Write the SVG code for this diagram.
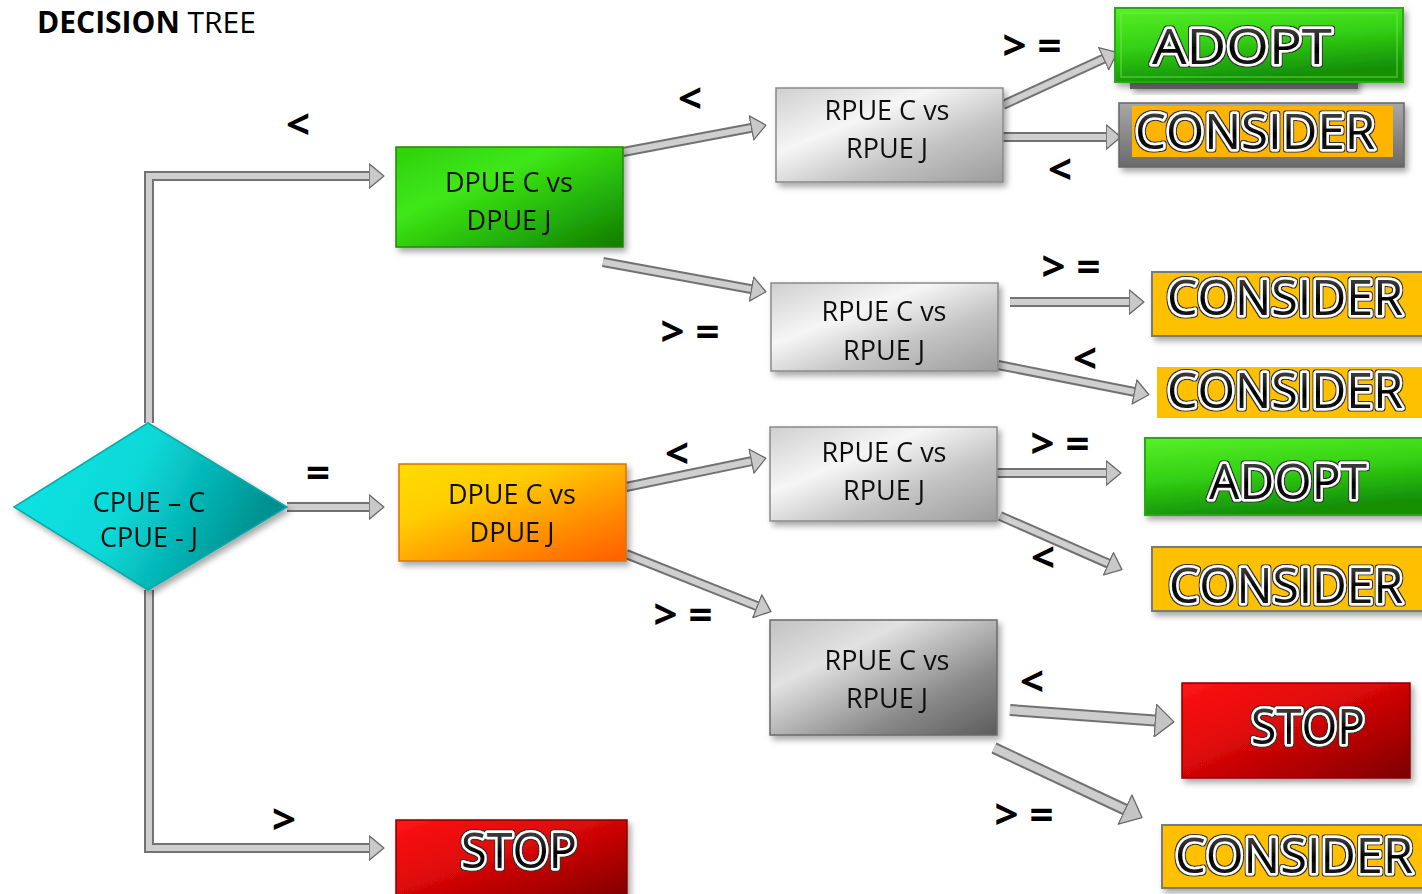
<svg xmlns="http://www.w3.org/2000/svg" width="1422" height="894" viewBox="0 0 1422 894">
<style>
.lbl{font-family:"Open Sans","Liberation Sans",sans-serif;font-weight:700;font-size:42px;fill:#000;text-anchor:middle}
.box{font-family:"Open Sans","Liberation Sans",sans-serif;font-size:27px;fill:#111;text-anchor:middle}
.big{font-family:"Open Sans","Liberation Sans",sans-serif;font-size:50px;fill:url(#ink);stroke:#fff;stroke-width:5;stroke-linejoin:round;paint-order:stroke;text-anchor:middle;filter:url(#rim)}
.o{stroke:#727272;stroke-width:10;fill:none;stroke-linejoin:miter}
.i{stroke:#cfcfcf;stroke-width:6;fill:none;stroke-linejoin:miter}
.ob{stroke:#727272;stroke-width:12;fill:none}
.ib{stroke:#cdcdcd;stroke-width:8;fill:none}
.sh{filter:url(#shadow)}
</style>
<defs>
<marker id="ah" viewBox="0 0 16 26" refX="0.5" refY="13" markerWidth="16" markerHeight="26" markerUnits="userSpaceOnUse" orient="auto">
<path d="M0.7,0.8 L15.4,13 L0.7,25.2 Z" fill="#c9c9c9" stroke="#6a6a6a" stroke-width="1.3" stroke-linejoin="round"/>
</marker>
<marker id="ahb" viewBox="0 0 20 34" refX="0.5" refY="17" markerWidth="20" markerHeight="34" markerUnits="userSpaceOnUse" orient="auto">
<path d="M0.7,0.8 L19.4,17 L0.7,33.2 Z" fill="#c4c4c4" stroke="#6a6a6a" stroke-width="1.3" stroke-linejoin="round"/>
</marker>
<filter id="shadow" x="-10%" y="-10%" width="125%" height="135%">
<feDropShadow dx="3" dy="4" stdDeviation="3" flood-color="#000" flood-opacity="0.35"/>
</filter>
<filter id="rim" x="-10%" y="-30%" width="120%" height="160%">
<feMorphology in="SourceAlpha" operator="dilate" radius="1.3" result="d"/>
<feFlood flood-color="#333"/>
<feComposite in2="d" operator="in" result="o"/>
<feMerge><feMergeNode in="o"/><feMergeNode in="SourceGraphic"/></feMerge>
</filter>
<linearGradient id="ink" x1="0" y1="0" x2="0" y2="1">
<stop offset="0" stop-color="#6a6a6a"/><stop offset="0.45" stop-color="#1a1a1a"/><stop offset="0.55" stop-color="#000"/><stop offset="1" stop-color="#2a2a2a"/>
</linearGradient>
<linearGradient id="cyan" x1="0" y1="0" x2="1" y2="0.3">
<stop offset="0" stop-color="#14e6e6"/><stop offset="0.5" stop-color="#0ad8d8"/><stop offset="1" stop-color="#008f8f"/>
</linearGradient>
<linearGradient id="green" x1="0" y1="0" x2="1" y2="1">
<stop offset="0" stop-color="#2fd010"/><stop offset="0.35" stop-color="#3ee814"/><stop offset="0.7" stop-color="#22b00a"/><stop offset="1" stop-color="#127a00"/>
</linearGradient>
<linearGradient id="adopt" x1="0" y1="0" x2="0.3" y2="1">
<stop offset="0" stop-color="#58f028"/><stop offset="0.5" stop-color="#34d214"/><stop offset="1" stop-color="#138f06"/>
</linearGradient>
<linearGradient id="orange" x1="0" y1="0" x2="0.9" y2="1">
<stop offset="0" stop-color="#ffdd00"/><stop offset="0.35" stop-color="#ffcc00"/><stop offset="0.75" stop-color="#ff8a00"/><stop offset="1" stop-color="#ff6400"/>
</linearGradient>
<linearGradient id="red" x1="0" y1="0" x2="1" y2="1">
<stop offset="0" stop-color="#ff1414"/><stop offset="0.4" stop-color="#e00808"/><stop offset="0.8" stop-color="#a00000"/><stop offset="1" stop-color="#7a0000"/>
</linearGradient>
<linearGradient id="silver" x1="0" y1="0" x2="1" y2="1">
<stop offset="0" stop-color="#cfcfcf"/><stop offset="0.35" stop-color="#f6f6f6"/><stop offset="0.65" stop-color="#c4c4c4"/><stop offset="1" stop-color="#9c9c9c"/>
</linearGradient>
<linearGradient id="dark" x1="0" y1="0" x2="1" y2="1">
<stop offset="0" stop-color="#c2c2c2"/><stop offset="0.3" stop-color="#e2e2e2"/><stop offset="0.7" stop-color="#8a8a8a"/><stop offset="1" stop-color="#5c5c5c"/>
</linearGradient>
<linearGradient id="grayframe" x1="0" y1="0" x2="0" y2="1">
<stop offset="0" stop-color="#a8a8a8"/><stop offset="1" stop-color="#6a6a6a"/>
</linearGradient>
</defs>

<rect width="1422" height="894" fill="#fff"/>

<text x="37" y="33" font-family="'Open Sans','Liberation Sans',sans-serif" font-size="30" fill="#000"><tspan font-weight="700">DECISION</tspan> TREE</text>

<g id="connectors">
<polyline class="o" points="149,423 149,176 369,176"/><polyline class="i" points="149,423 149,176 369,176" marker-end="url(#ah)"/>
<line class="o" x1="287" y1="507" x2="369" y2="507"/><line class="i" x1="287" y1="507" x2="369" y2="507" marker-end="url(#ah)"/>
<polyline class="o" points="149,590 149,848 369,848"/><polyline class="i" points="149,590 149,848 369,848" marker-end="url(#ah)"/>
<line class="o" x1="623" y1="152" x2="751.3" y2="127.9"/><line class="i" x1="623" y1="152" x2="751.3" y2="127.9" marker-end="url(#ah)"/>
<line class="o" x1="603" y1="262" x2="751.3" y2="289.1"/><line class="i" x1="603" y1="262" x2="751.3" y2="289.1" marker-end="url(#ah)"/>
<line class="o" x1="626" y1="487" x2="751.3" y2="461.2"/><line class="i" x1="626" y1="487" x2="751.3" y2="461.2" marker-end="url(#ah)"/>
<line class="o" x1="626" y1="554" x2="757.1" y2="606.1"/><line class="i" x1="626" y1="554" x2="757.1" y2="606.1" marker-end="url(#ah)"/>
<line class="o" x1="1003" y1="105" x2="1103.5" y2="58.7"/><line class="i" x1="1003" y1="105" x2="1103.5" y2="58.7" marker-end="url(#ah)"/>
<line class="o" x1="1003" y1="137" x2="1106" y2="137"/><line class="i" x1="1003" y1="137" x2="1106" y2="137" marker-end="url(#ah)"/>
<line class="o" x1="1010" y1="302" x2="1129" y2="302"/><line class="i" x1="1010" y1="302" x2="1129" y2="302" marker-end="url(#ah)"/>
<line class="o" x1="998" y1="365" x2="1134.3" y2="391.9"/><line class="i" x1="998" y1="365" x2="1134.3" y2="391.9" marker-end="url(#ah)"/>
<line class="o" x1="996" y1="473" x2="1106" y2="473"/><line class="i" x1="996" y1="473" x2="1106" y2="473" marker-end="url(#ah)"/>
<line class="o" x1="1000" y1="516" x2="1108.3" y2="563.6"/><line class="i" x1="1000" y1="516" x2="1108.3" y2="563.6" marker-end="url(#ah)"/>
<line class="ob" x1="1010" y1="710" x2="1155.1" y2="720.5"/><line class="ib" x1="1010" y1="710" x2="1155.1" y2="720.5" marker-end="url(#ahb)"/>
<line class="ob" x1="994" y1="748" x2="1124.9" y2="809.5"/><line class="ib" x1="994" y1="748" x2="1124.9" y2="809.5" marker-end="url(#ahb)"/>
</g>

<g id="node-cpue" class="sh">
<polygon points="148,423 287,507 148,590 14,507" fill="url(#cyan)" stroke="#0aa8a8" stroke-width="1.5"/>
<text class="box" x="149" y="512">CPUE – C</text>
<text class="box" x="149" y="547">CPUE - J</text>
</g>

<g id="node-dpue-green" class="sh">
<rect x="396" y="147" width="227" height="100" fill="url(#green)" stroke="#1c8a08" stroke-width="1.5"/>
<text class="box" x="509" y="192">DPUE C vs</text>
<text class="box" x="509" y="230">DPUE J</text>
</g>

<g id="node-dpue-orange" class="sh">
<rect x="399" y="464" width="227" height="97" fill="url(#orange)" stroke="#e07000" stroke-width="1.5"/>
<text class="box" x="512" y="504">DPUE C vs</text>
<text class="box" x="512" y="542">DPUE J</text>
</g>

<g id="node-stop-1" class="sh">
<rect x="396" y="820" width="231" height="80" fill="url(#red)" stroke="#8a0000" stroke-width="1.5"/>
<text class="big" x="519" y="868" textLength="116" lengthAdjust="spacingAndGlyphs">STOP</text>
</g>

<g id="node-rpue-1" class="sh">
<rect x="776" y="88" width="227" height="94" fill="url(#silver)" stroke="#8a8a8a" stroke-width="1.5"/>
<text class="box" x="887" y="120">RPUE C vs</text>
<text class="box" x="887" y="158">RPUE J</text>
</g>

<g id="node-rpue-2" class="sh">
<rect x="771" y="283" width="227" height="88" fill="url(#silver)" stroke="#8a8a8a" stroke-width="1.5"/>
<text class="box" x="884" y="321">RPUE C vs</text>
<text class="box" x="884" y="360">RPUE J</text>
</g>

<g id="node-rpue-3" class="sh">
<rect x="770" y="427" width="227" height="94" fill="url(#silver)" stroke="#8a8a8a" stroke-width="1.5"/>
<text class="box" x="884" y="462">RPUE C vs</text>
<text class="box" x="884" y="500">RPUE J</text>
</g>

<g id="node-rpue-4" class="sh">
<rect x="770" y="620" width="227" height="115" fill="url(#dark)" stroke="#6a6a6a" stroke-width="1.5"/>
<text class="box" x="887" y="670">RPUE C vs</text>
<text class="box" x="887" y="708">RPUE J</text>
</g>

<g id="node-adopt-1">
<rect x="1130" y="66" width="228" height="23" fill="url(#grayframe)" class="sh"/>
<rect x="1115" y="8" width="288" height="74" fill="url(#adopt)" stroke="#2aa814" stroke-width="2" class="sh"/>
<rect x="1121" y="13" width="276" height="64" fill="none" stroke="#7af050" stroke-opacity="0.5" stroke-width="1.5"/>
<text class="big" x="1242" y="64" textLength="180" lengthAdjust="spacingAndGlyphs">ADOPT</text>
</g>

<g id="node-consider-1">
<rect x="1119" y="103" width="285" height="64" fill="url(#grayframe)" stroke="#666" stroke-width="1.5" class="sh"/>
<rect x="1132" y="106" width="261" height="51" fill="#ffb400"/>
<text class="big" x="1255" y="149" textLength="240" lengthAdjust="spacingAndGlyphs">CONSIDER</text>
</g>

<g id="node-consider-2" class="sh">
<rect x="1152" y="272" width="275" height="64" fill="#ffc000" stroke="#7a7a7a" stroke-width="2"/>
<text class="big" x="1285" y="315" textLength="236" lengthAdjust="spacingAndGlyphs">CONSIDER</text>
</g>

<g id="node-consider-3">
<rect x="1157" y="367" width="270" height="51" fill="#ffc000"/>
<text class="big" x="1285" y="408" textLength="236" lengthAdjust="spacingAndGlyphs">CONSIDER</text>
</g>

<g id="node-adopt-2" class="sh">
<rect x="1145" y="438" width="282" height="77" fill="url(#adopt)" stroke="#2aa814" stroke-width="2"/>
<text class="big" x="1288" y="499" textLength="158" lengthAdjust="spacingAndGlyphs">ADOPT</text>
</g>

<g id="node-consider-4" class="sh">
<rect x="1152" y="547" width="275" height="64" fill="#ffc000" stroke="#7a7a7a" stroke-width="2"/>
<text class="big" x="1286" y="603" textLength="234" lengthAdjust="spacingAndGlyphs">CONSIDER</text>
</g>

<g id="node-stop-2" class="sh">
<rect x="1182" y="683" width="228" height="95" fill="url(#red)" stroke="#8a0000" stroke-width="1.5"/>
<text class="big" x="1308" y="744" textLength="114" lengthAdjust="spacingAndGlyphs">STOP</text>
</g>

<g id="node-consider-5" class="sh">
<rect x="1162" y="825" width="265" height="63" fill="#ffc000" stroke="#7a7a7a" stroke-width="2"/>
<text class="big" x="1294" y="873" textLength="238" lengthAdjust="spacingAndGlyphs">CONSIDER</text>
</g>

<g id="labels">
<text class="lbl" x="298" y="139">&lt;</text>
<text class="lbl" x="318" y="487">=</text>
<text class="lbl" x="284" y="834">&gt;</text>
<text class="lbl" x="690" y="113">&lt;</text>
<text class="lbl" x="690" y="346">&gt; =</text>
<text class="lbl" x="677" y="468">&lt;</text>
<text class="lbl" x="683" y="629">&gt; =</text>
<text class="lbl" x="1032" y="60">&gt; =</text>
<text class="lbl" x="1060" y="184">&lt;</text>
<text class="lbl" x="1071" y="281">&gt; =</text>
<text class="lbl" x="1085" y="373">&lt;</text>
<text class="lbl" x="1060" y="458">&gt; =</text>
<text class="lbl" x="1043" y="572">&lt;</text>
<text class="lbl" x="1032" y="696">&lt;</text>
<text class="lbl" x="1024" y="829">&gt; =</text>
</g>
</svg>
